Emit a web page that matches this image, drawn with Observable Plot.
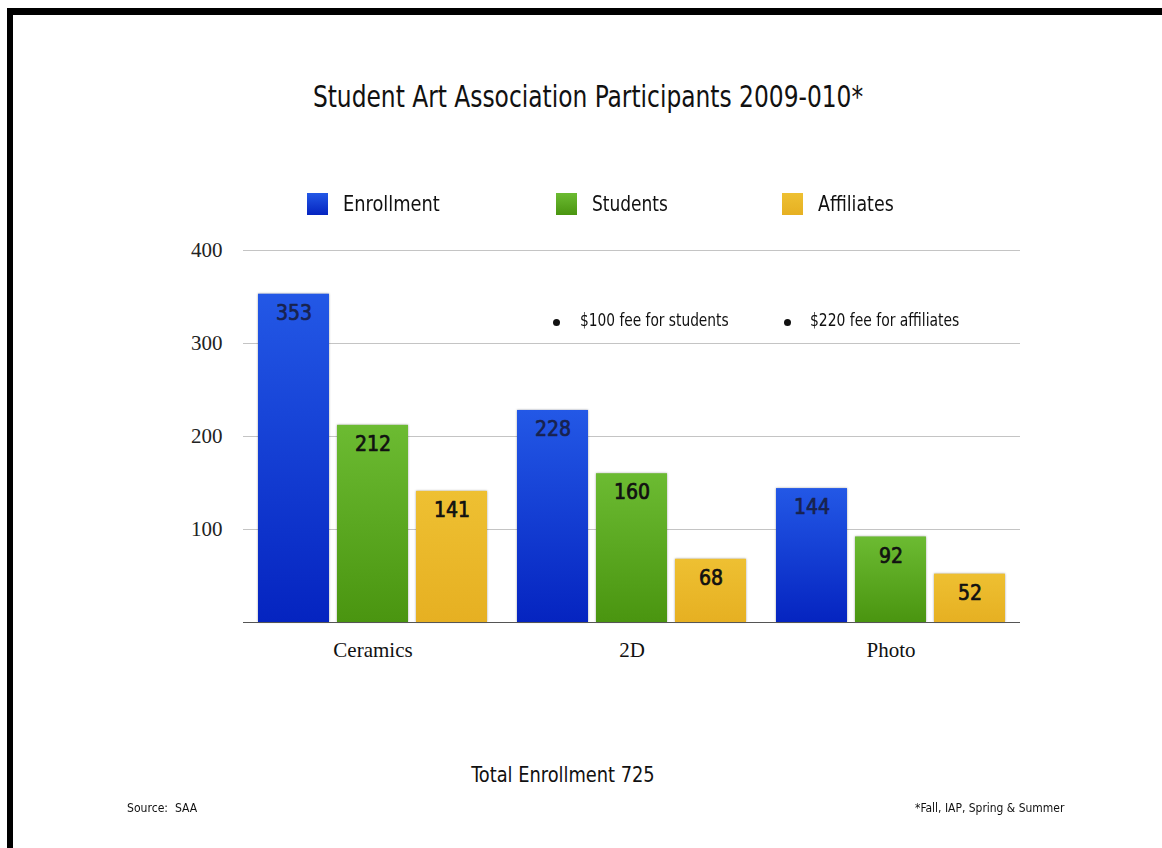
<!DOCTYPE html>
<html>
<head>
<meta charset="utf-8">
<script src="https://cdn.jsdelivr.net/npm/d3@7"></script>
<script src="https://cdn.jsdelivr.net/npm/@observablehq/plot@0.6"></script>
<style>
  html, body { margin: 0; padding: 0; background: #fff; }
  body { width: 1162px; height: 848px; position: relative; overflow: hidden;
         font-family: "Liberation Sans Narrow", "DejaVu Sans Condensed", "Roboto Condensed", "Open Sans", sans-serif; font-stretch: condensed; color: #111; }
  .frame { position: absolute; left: 7px; top: 8px; right: -20px; bottom: -20px;
           border-top: 7px solid #000; border-left: 6px solid #000; }
  .t { position: absolute; white-space: nowrap; line-height: 1; transform-origin: 0 50%; }
  .c { transform-origin: 50% 50%; }
  .dot { position: absolute; width: 7px; height: 7px; border-radius: 50%; background: #111; }
  .sw { position: absolute; width: 21px; height: 22px; }
  #chart { position: absolute; left: 0; top: 230px; }
  #chart g[aria-label="bar"] rect { filter: drop-shadow(0 0 1.2px rgba(0,0,0,0.35)); }
</style>
</head>
<body>
<div class="frame"></div>
<div class="t c" style="left:588px; top:82px; font-size:30px; transform: translateX(-50%) scaleX(0.865);">Student Art Association Participants 2009-010*</div>
<div id="legend"></div>
<div class="dot" style="left:553px; top:319px;"></div>
<div class="t" style="left:580px; top:312px; font-size:17px; transform: scaleX(0.9);">$100 fee for students</div>
<div class="dot" style="left:784px; top:319px;"></div>
<div class="t" style="left:810px; top:312px; font-size:17px; transform: scaleX(0.91);">$220 fee for affiliates</div>
<div id="chart"></div>
<div class="t c" style="left:563px; top:764px; font-size:22px; transform: translateX(-50%) scaleX(0.9);">Total Enrollment 725</div>
<div class="t" style="left:127px; top:801px; font-size:13px; transform: scaleX(0.93);">Source:&nbsp; SAA</div>
<div class="t" style="left:915px; top:801px; font-size:13px; transform: scaleX(0.92);">*Fall, IAP, Spring &amp; Summer</div>
<script>
const categories = ["Ceramics", "2D", "Photo"];
const series = ["Enrollment", "Students", "Affiliates"];
const enrollment = [353, 228, 144];
const students = [212, 160, 92];
const affiliates = [141, 68, 52];
const yTicks = [100, 200, 300, 400];

const valuesBySeries = [enrollment, students, affiliates];
const rows = [];
categories.forEach((c, i) => series.forEach((s, j) => rows.push({category: c, series: s, value: valuesBySeries[j][i]})));

const stops = [["#2358e6", "#0524c0"], ["#6cbb32", "#4a9510"], ["#eec032", "#e6b022"]];

// legend
const legendX = [307, 556, 782];
const legendScale = [0.9, 0.86, 0.88];
const legend = document.getElementById("legend");
series.forEach((s, j) => {
  const sw = document.createElement("div");
  sw.className = "sw";
  sw.style.left = legendX[j] + "px";
  sw.style.top = "193px";
  sw.style.background = `linear-gradient(${stops[j][0]}, ${stops[j][1]})`;
  legend.appendChild(sw);
  const t = document.createElement("div");
  t.className = "t";
  t.style.left = (legendX[j] + 36) + "px";
  t.style.top = "193px";
  t.style.fontSize = "22px";
  t.style.transform = `scaleX(${legendScale[j]})`;
  t.textContent = s;
  legend.appendChild(t);
});

const serif = "'Liberation Serif', 'DejaVu Serif', serif";
const gradIds = ["gEnroll", "gStud", "gAff"];

const svg = Plot.plot({
  width: 1162,
  height: 460,
  marginLeft: 243,
  marginRight: 142,
  marginTop: 20,
  marginBottom: 68,
  style: {background: "transparent", overflow: "visible"},
  fx: {domain: categories, padding: 0, label: null},
  x: {domain: series, paddingInner: 0.1, paddingOuter: 0.18, axis: null},
  y: {domain: [0, 400], label: null},
  color: {domain: series, range: gradIds.map(id => `url(#${id})`)},
  marks: [
    Plot.gridY(yTicks, {stroke: "#c4c4c4", strokeOpacity: 1}),
    Plot.axisY(yTicks, {tickSize: 0, tickPadding: 21, fontSize: 21, fontFamily: serif, fill: "#222", label: null}),
    Plot.axisFx({anchor: "bottom", tickSize: 0, tickPadding: 20, fontSize: 21, fontFamily: serif, fill: "#111", label: null}),
    Plot.barY(rows, {fx: "category", x: "series", y: "value", fill: "series"}),
    Plot.ruleY([0], {stroke: "#555", strokeWidth: 1.2}),
    Plot.text(rows, {filter: d => d.series === "Enrollment", fx: "category", x: "series", y: "value", text: d => String(d.value), dy: 19, fontSize: 21, fill: "#18224e", stroke: "#18224e", strokeWidth: 0.7}),
    Plot.text(rows, {filter: d => d.series !== "Enrollment", fx: "category", x: "series", y: "value", text: d => String(d.value), dy: 19, fontSize: 21, fill: "#111", stroke: "#111", strokeWidth: 0.7})
  ]
});
svg.style.fontFamily = "'Liberation Sans Narrow', 'DejaVu Sans Condensed', 'Roboto Condensed', sans-serif";

const defs = d3.select(svg).insert("defs", ":first-child");
gradIds.forEach((id, j) => {
  const g = defs.append("linearGradient").attr("id", id).attr("x1", 0).attr("y1", 0).attr("x2", 0).attr("y2", 1);
  g.append("stop").attr("offset", "0%").attr("stop-color", stops[j][0]);
  g.append("stop").attr("offset", "100%").attr("stop-color", stops[j][1]);
});

document.getElementById("chart").appendChild(svg);
</script>
</body>
</html>
